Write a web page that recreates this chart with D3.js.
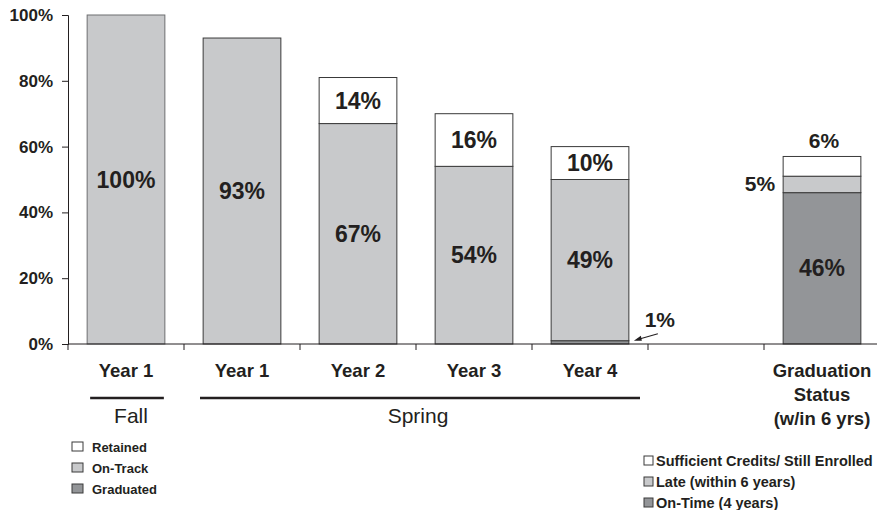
<!DOCTYPE html>
<html>
<head>
<meta charset="utf-8">
<script src="https://cdn.jsdelivr.net/npm/d3@7"></script>
<style>
  body { margin: 0; background: #fff; }
  svg text { font-family: "Liberation Sans", Arial, sans-serif; fill: #231f20; }
</style>
</head>
<body>
<svg id="chart" width="877" height="510"></svg>
<script>
// slots along the x axis (one empty slot before graduation status)
const slots = ["fall1", "spring1", "spring2", "spring3", "spring4", "gap", "grad"];
const tickLabels = [["Year 1"], ["Year 1"], ["Year 2"], ["Year 3"], ["Year 4"], [], ["Graduation", "Status", "(w/in 6 yrs)"]];

// cohort bars
const cohortSlots = ["fall1", "spring1", "spring2", "spring3", "spring4"];
const graduated = [0, 0, 0, 0, 1];
const onTrack = [100, 93, 67, 54, 49];
const retained = [0, 0, 14, 16, 10];

// graduation status bar
const gradSlots = ["grad"];
const onTime = [46];
const late = [5];
const stillEnrolled = [6];

const yTicks = [0, 20, 40, 60, 80, 100];

const cohortLegend = ["Retained", "On-Track", "Graduated"];
const gradLegend = ["Sufficient Credits/ Still Enrolled", "Late (within 6 years)", "On-Time (4 years)"];

const colors = { white: "#ffffff", light: "#c8c9cb", dark: "#939598" };

const svg = d3.select("#chart");
const x = d3.scaleBand().domain(slots).range([68, 880]);
const y = d3.scaleLinear().domain([0, 100]).range([344, 15]);
const barW = x.bandwidth() * 0.67;
const barX = s => x(s) + (x.bandwidth() - barW) / 2;

// build stacked rows
const cohortRows = cohortSlots.map((s, i) => ({ slot: s, graduated: graduated[i], onTrack: onTrack[i], retained: retained[i] }));
const gradRows = gradSlots.map((s, i) => ({ slot: s, onTime: onTime[i], late: late[i], stillEnrolled: stillEnrolled[i] }));

const cohortStack = d3.stack().keys(["graduated", "onTrack", "retained"])(cohortRows);
const gradStack = d3.stack().keys(["onTime", "late", "stillEnrolled"])(gradRows);

const fillOf = { graduated: colors.dark, onTrack: colors.light, retained: colors.white,
                 onTime: colors.dark, late: colors.light, stillEnrolled: colors.white };

function drawStack(stack) {
    stack.forEach(layer => {
        layer.forEach(d => {
            const v = d[1] - d[0];
            if (v <= 0) return;
            svg.append("rect")
                .attr("x", barX(d.data.slot))
                .attr("y", y(d[1]))
                .attr("width", barW)
                .attr("height", y(d[0]) - y(d[1]))
                .attr("fill", fillOf[layer.key])
                .attr("stroke", d.data.slot == "fall1" ? "#6d6e70" : "#3a3a3a")
                .attr("stroke-width", 1);
        });
    });
}
drawStack(cohortStack);
drawStack(gradStack);

// labels
function labelStack(stack) {
    stack.forEach(layer => {
        layer.forEach(d => {
            const v = d[1] - d[0];
            if (v <= 0) return;
            const cx = barX(d.data.slot) + barW / 2;
            const h = y(d[0]) - y(d[1]);
            const t = svg.append("text")
                .attr("font-size", 23).attr("font-weight", "bold")
                .text(v + "%");
            if (h > 25) {
                t.attr("x", cx).attr("y", (y(d[0]) + y(d[1])) / 2 + 8).attr("text-anchor", "middle");
            } else if (layer.key == "stillEnrolled") {
                t.attr("x", cx + 2).attr("y", y(d[1]) - 8).attr("text-anchor", "middle").attr("font-size", 21);
            } else if (layer.key == "late") {
                t.attr("x", barX(d.data.slot) - 8).attr("y", (y(d[0]) + y(d[1])) / 2 + 7).attr("text-anchor", "end").attr("font-size", 21);
            } else {
                // small graduated slice: label with arrow
                const ax = barX(d.data.slot) + barW;
                t.attr("x", ax + 31).attr("y", y(d[1]) - 14).attr("text-anchor", "middle").attr("font-size", 21);
                svg.append("line")
                    .attr("x1", ax + 29).attr("y1", y(d[1]) - 7)
                    .attr("x2", ax + 8).attr("y2", y(d[1]) - 1)
                    .attr("stroke", "#231f20").attr("stroke-width", 1.2);
                svg.append("path")
                    .attr("d", `M${ax + 5},${y(d[1])} l7,-5 l1,5 z`)
                    .attr("fill", "#231f20");
            }
        });
    });
}
labelStack(cohortStack);
labelStack(gradStack);

// y axis
const yAxis = svg.append("g")
    .attr("transform", "translate(68,0)")
    .call(d3.axisLeft(y).tickValues(yTicks).tickFormat(d => d + "%").tickSize(6).tickPadding(9));
yAxis.select(".domain").attr("stroke", "#231f20");
yAxis.selectAll(".tick line").attr("stroke", "#231f20");
yAxis.selectAll("text").attr("font-size", 17).attr("font-weight", "bold")
    .attr("font-family", "Liberation Sans, Arial, sans-serif").attr("fill", "#231f20");

// x axis line and ticks between slots
svg.append("line").attr("x1", 68).attr("x2", 877).attr("y1", y(0)).attr("y2", y(0))
    .attr("stroke", "#231f20").attr("stroke-width", 1);
slots.forEach(s => {
    svg.append("line").attr("x1", x(s)).attr("x2", x(s)).attr("y1", y(0)).attr("y2", y(0) + 6)
        .attr("stroke", "#231f20");
});

// category labels
slots.forEach((s, i) => {
    tickLabels[i].forEach((line, j) => {
        svg.append("text")
            .attr("x", x(s) + x.bandwidth() / 2)
            .attr("y", 377 + j * 24)
            .attr("text-anchor", "middle")
            .attr("font-size", 18.5).attr("font-weight", "bold")
            .text(line);
    });
});

// season brackets
const seasons = [
    { name: "Fall", from: "fall1", to: "fall1" },
    { name: "Spring", from: "spring1", to: "spring4" }
];
seasons.forEach(g => {
    const x0 = g.from == "fall1" ? barX(g.from) + 3 : x(g.from) + 16;
    const x1 = g.to == "fall1" ? barX(g.to) + barW - 1 : x(g.to) + x.bandwidth() - 8;
    svg.append("line").attr("x1", x0).attr("x2", x1).attr("y1", 398).attr("y2", 398)
        .attr("stroke", "#231f20").attr("stroke-width", 2.5);
    svg.append("text")
        .attr("x", g.name == "Fall" ? (x0 + x1) / 2 + 4 : (x0 + x1) / 2 - 2)
        .attr("y", 423).attr("text-anchor", "middle")
        .attr("font-size", 21)
        .text(g.name);
});

// legends
const legendFills = [colors.white, colors.light, colors.dark];
cohortLegend.forEach((name, i) => {
    svg.append("rect").attr("x", 72).attr("y", 442 + i * 21).attr("width", 11).attr("height", 9)
        .attr("fill", legendFills[i]).attr("stroke", "#3a3a3a").attr("stroke-width", 1);
    svg.append("text").attr("x", 92).attr("y", 452 + i * 21)
        .attr("font-size", 13).attr("font-weight", "bold").text(name);
});
gradLegend.forEach((name, i) => {
    svg.append("rect").attr("x", 644).attr("y", 456 + i * 21).attr("width", 9).attr("height", 9)
        .attr("fill", legendFills[i]).attr("stroke", "#3a3a3a").attr("stroke-width", 1);
    svg.append("text").attr("x", 656).attr("y", 465.5 + i * 21)
        .attr("font-size", 14.5).attr("font-weight", "bold").text(name);
});
</script>
</body>
</html>
